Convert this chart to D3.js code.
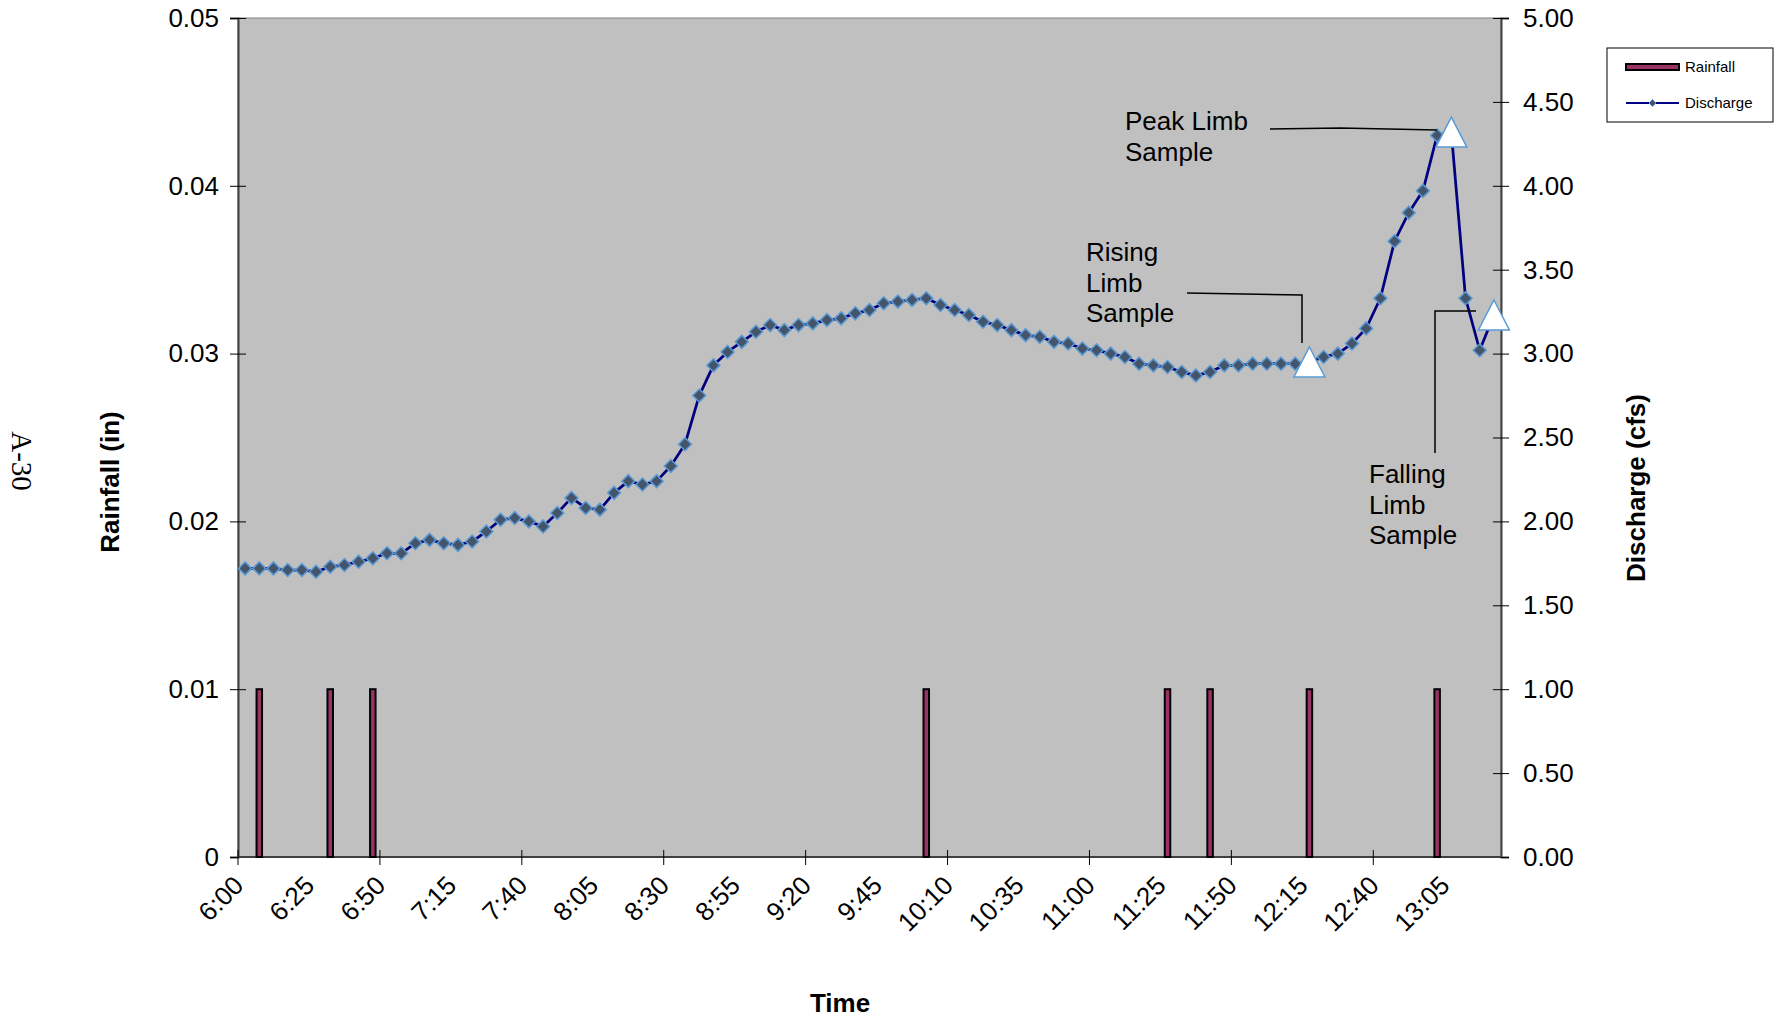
<!DOCTYPE html>
<html>
<head>
<meta charset="utf-8">
<script src="https://cdn.jsdelivr.net/npm/d3@7"></script>
<style>
  html, body { margin: 0; padding: 0; background: #ffffff; }
  svg { display: block; font-family: "Liberation Sans", Arial, sans-serif; }
</style>
</head>
<body>
<svg id="chart" width="1777" height="1021"></svg>
<script>
// Five-minute observation times, 6:00 – 13:20
const times = [
  "6:00","6:05","6:10","6:15","6:20","6:25","6:30","6:35","6:40","6:45",
  "6:50","6:55","7:00","7:05","7:10","7:15","7:20","7:25","7:30","7:35",
  "7:40","7:45","7:50","7:55","8:00","8:05","8:10","8:15","8:20","8:25",
  "8:30","8:35","8:40","8:45","8:50","8:55","9:00","9:05","9:10","9:15",
  "9:20","9:25","9:30","9:35","9:40","9:45","9:50","9:55","10:00","10:05",
  "10:10","10:15","10:20","10:25","10:30","10:35","10:40","10:45","10:50","10:55",
  "11:00","11:05","11:10","11:15","11:20","11:25","11:30","11:35","11:40","11:45",
  "11:50","11:55","12:00","12:05","12:10","12:15","12:20","12:25","12:30","12:35",
  "12:40","12:45","12:50","12:55","13:00","13:05","13:10","13:15","13:20"
];

// Rainfall per interval (in)
const rainfall = [
  0,0.01,0,0,0,0,0.01,0,0,0.01,
  0,0,0,0,0,0,0,0,0,0,
  0,0,0,0,0,0,0,0,0,0,
  0,0,0,0,0,0,0,0,0,0,
  0,0,0,0,0,0,0,0,0.01,0,
  0,0,0,0,0,0,0,0,0,0,
  0,0,0,0,0,0.01,0,0,0.01,0,
  0,0,0,0,0,0.01,0,0,0,0,
  0,0,0,0,0.01,0,0,0,0
];

// Discharge (cfs)
const discharge = [
  1.72,1.72,1.72,1.71,1.71,1.70,1.73,1.74,1.76,1.78,
  1.81,1.81,1.87,1.89,1.87,1.86,1.88,1.94,2.01,2.02,
  2.00,1.97,2.05,2.14,2.08,2.07,2.17,2.24,2.22,2.24,
  2.33,2.46,2.75,2.93,3.01,3.07,3.13,3.17,3.14,3.17,
  3.18,3.20,3.21,3.24,3.26,3.30,3.31,3.32,3.33,3.29,
  3.26,3.23,3.19,3.17,3.14,3.11,3.10,3.07,3.06,3.03,
  3.02,3.00,2.98,2.94,2.93,2.92,2.89,2.87,2.89,2.93,
  2.93,2.94,2.94,2.94,2.94,2.95,2.98,3.00,3.06,3.15,
  3.33,3.67,3.84,3.97,4.30,4.32,3.33,3.02,3.23
];

// Sampling events
const sampleTimes  = ["12:15", "13:05", "13:20"];
const sampleValues = [2.95, 4.32, 3.23];
const sampleNames  = [["Rising", "Limb", "Sample"], ["Peak Limb", "Sample"], ["Falling", "Limb", "Sample"]];

// Axis ticks
const rainTicks = [0, 0.01, 0.02, 0.03, 0.04, 0.05];
const flowTicks = [0, 0.5, 1, 1.5, 2, 2.5, 3, 3.5, 4, 4.5, 5];
const labelTimes = times.filter((t, i) => i % 5 === 0);
const markTimes  = times.filter((t, i) => i % 10 === 0);

const svg = d3.select("#chart");
const plot = { left: 238, right: 1501, top: 18, bottom: 857 };

const x = d3.scaleBand().domain(times).range([plot.left, plot.right]).padding(0);
const cx = t => x(t) + x.bandwidth() / 2;
const yRain = d3.scaleLinear().domain([0, 0.05]).range([plot.bottom, plot.top]);
const yFlow = d3.scaleLinear().domain([0, 5]).range([plot.bottom, plot.top]);

// Plot area
svg.append("rect")
  .attr("x", plot.left).attr("y", plot.top)
  .attr("width", plot.right - plot.left).attr("height", plot.bottom - plot.top)
  .attr("fill", "#c0c0c0").attr("stroke", "#808080").attr("stroke-width", 1);

// Left axis (rainfall)
const gL = svg.append("g").attr("transform", `translate(${plot.left},0)`)
  .call(d3.axisLeft(yRain).tickValues(rainTicks).tickSize(8).tickPadding(11)
    .tickFormat(d => d === 0 ? "0" : d3.format(".2f")(d)));
gL.selectAll(".tick line").attr("x1", 8).attr("stroke", "#000");
gL.select(".domain").attr("stroke", "#404040").attr("stroke-width", 2);
gL.selectAll(".tick text").attr("font-size", 26).attr("fill", "#000")
  .attr("font-family", "'Liberation Sans', Arial, sans-serif");

// Right axis (discharge)
const gR = svg.append("g").attr("transform", `translate(${plot.right},0)`)
  .call(d3.axisRight(yFlow).tickValues(flowTicks).tickSize(8).tickPadding(14)
    .tickFormat(d3.format(".2f")));
gR.selectAll(".tick line").attr("x1", -8).attr("stroke", "#000");
gR.select(".domain").attr("stroke", "#404040").attr("stroke-width", 2);
gR.selectAll(".tick text").attr("font-size", 26).attr("fill", "#000")
  .attr("font-family", "'Liberation Sans', Arial, sans-serif");

// Bottom axis: line, tick marks on category boundaries, rotated labels
svg.append("line")
  .attr("x1", plot.left).attr("x2", plot.right)
  .attr("y1", plot.bottom).attr("y2", plot.bottom)
  .attr("stroke", "#404040").attr("stroke-width", 2);
svg.append("g").selectAll("line").data(markTimes).join("line")
  .attr("x1", d => x(d)).attr("x2", d => x(d))
  .attr("y1", plot.bottom - 7).attr("y2", plot.bottom + 8)
  .attr("stroke", "#000").attr("stroke-width", 1);
svg.append("g").selectAll("text").data(labelTimes).join("text")
  .attr("transform", d => `translate(${cx(d)},${887}) rotate(-45)`)
  .attr("text-anchor", "end")
  .attr("font-size", 26).attr("fill", "#000")
  .text(d => d);

// Rainfall bars
svg.append("g").selectAll("rect")
  .data(times.map((t, i) => ({ t, v: rainfall[i] })).filter(d => d.v > 0))
  .join("rect")
  .attr("x", d => cx(d.t) - 2.75)
  .attr("width", 5.5)
  .attr("y", d => yRain(d.v))
  .attr("height", d => yRain(0) - yRain(d.v))
  .attr("fill", "#993366").attr("stroke", "#000").attr("stroke-width", 2);

// Discharge line and markers
const flowPts = times.map((t, i) => ({ t, v: discharge[i] }));
svg.append("path")
  .datum(flowPts)
  .attr("d", d3.line().x(d => cx(d.t)).y(d => yFlow(d.v)))
  .attr("fill", "none").attr("stroke", "#000080").attr("stroke-width", 2.75)
  .attr("stroke-linejoin", "round");
const diamond = "M0,-6.5L6.5,0L0,6.5L-6.5,0Z";
svg.append("g").selectAll("path").data(flowPts).join("path")
  .attr("transform", d => `translate(${cx(d.t)},${yFlow(d.v)})`)
  .attr("d", diamond)
  .attr("fill", "#44546a").attr("stroke", "#5b9bd5").attr("stroke-width", 1.5);

// Sample markers
const triangle = "M0,-15L15.5,15L-15.5,15Z";
svg.append("g").selectAll("path").data(sampleTimes.map((t, i) => ({ t, v: sampleValues[i] })))
  .join("path")
  .attr("transform", d => `translate(${cx(d.t)},${yFlow(d.v)})`)
  .attr("d", triangle)
  .attr("fill", "#ffffff").attr("stroke", "#5b9bd5").attr("stroke-width", 1.5);

// Sample callouts
const callouts = [
  { lines: sampleNames[0], x: 1086, y: 261, path: [[1187, 293], [1302, 295], [1302, 343]] },
  { lines: sampleNames[1], x: 1125, y: 130, path: [[1270, 129], [1340, 128], [1437, 130]] },
  { lines: sampleNames[2], x: 1369, y: 483, path: [[1476, 311], [1435, 311], [1435, 453]] }
];
callouts.forEach(c => {
  const t = svg.append("text").attr("x", c.x).attr("y", c.y)
    .attr("font-size", 26).attr("fill", "#000");
  c.lines.forEach((ln, i) => {
    t.append("tspan").attr("x", c.x).attr("dy", i === 0 ? 0 : 30.5).text(ln);
  });
  svg.append("path").attr("d", d3.line()(c.path))
    .attr("fill", "none").attr("stroke", "#000").attr("stroke-width", 1.5);
});

// Axis titles
svg.append("text")
  .attr("transform", "translate(119,482) rotate(-90)")
  .attr("text-anchor", "middle").attr("font-size", 26).attr("font-weight", "bold")
  .text("Rainfall (in)");
svg.append("text")
  .attr("transform", "translate(1645,488) rotate(-90)")
  .attr("text-anchor", "middle").attr("font-size", 26).attr("font-weight", "bold")
  .text("Discharge (cfs)");
svg.append("text")
  .attr("x", 840).attr("y", 1012)
  .attr("text-anchor", "middle").attr("font-size", 26).attr("font-weight", "bold")
  .text("Time");

// Page number
svg.append("text")
  .attr("transform", "translate(12,461) rotate(90)")
  .attr("text-anchor", "middle")
  .attr("font-family", "'Liberation Serif', 'Times New Roman', serif")
  .attr("font-size", 29)
  .text("A-30");

// Legend
const lg = svg.append("g").attr("transform", "translate(1607,48)");
lg.append("rect").attr("width", 166).attr("height", 74)
  .attr("fill", "#ffffff").attr("stroke", "#000").attr("stroke-width", 1);
lg.append("rect").attr("x", 19).attr("y", 16).attr("width", 53).attr("height", 6)
  .attr("fill", "#993366").attr("stroke", "#000").attr("stroke-width", 2);
lg.append("text").attr("x", 78).attr("y", 24).attr("font-size", 15).text("Rainfall");
lg.append("line").attr("x1", 19).attr("x2", 72).attr("y1", 55).attr("y2", 55)
  .attr("stroke", "#000080").attr("stroke-width", 2);
lg.append("path").attr("transform", "translate(45.5,55)").attr("d", "M0,-3.5L3.5,0L0,3.5L-3.5,0Z")
  .attr("fill", "#44546a").attr("stroke", "#5b9bd5").attr("stroke-width", 1);
lg.append("text").attr("x", 78).attr("y", 60).attr("font-size", 15).text("Discharge");
</script>
</body>
</html>
